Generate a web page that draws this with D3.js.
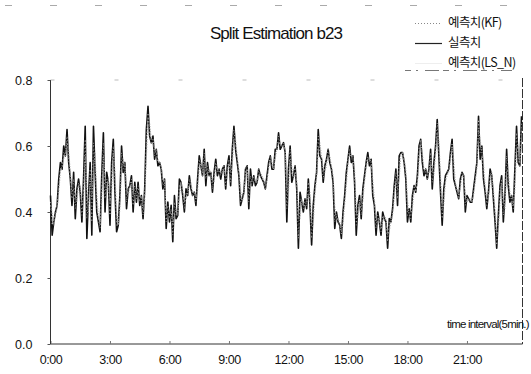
<!DOCTYPE html>
<html>
<head>
<meta charset="utf-8">
<script src="https://cdn.jsdelivr.net/npm/d3@7"></script>
<style>
  html, body { margin: 0; padding: 0; background: #fff; }
  svg { display: block; font-family: "Liberation Sans", Arial, "Noto Sans CJK KR", sans-serif; }
</style>
</head>
<body>
<svg id="chart" width="531" height="374"></svg>
<script>
// Split Estimation b23 - actual vs. two forecasts, 5 min intervals

const title = 'Split Estimation b23';
const xTickLabels = ['0:00', '3:00', '6:00', '9:00', '12:00', '15:00', '18:00', '21:00'];
const yTicks = [0, 0.2, 0.4, 0.6, 0.8];
const seriesNames = ['예측치(KF)', '실측치', '예측치(LS_N)'];

// 실측치 (actual)
const actual = [
  0.45,0.33,0.37,0.40,0.42,0.50,0.55,0.53,0.60,0.57,
  0.65,0.55,0.50,0.42,0.52,0.38,0.47,0.50,0.46,0.37,
  0.50,0.66,0.32,0.45,0.55,0.33,0.66,0.52,0.40,
  0.37,0.34,0.51,0.64,0.40,0.52,0.49,0.36,0.55,0.62,
  0.46,0.34,0.36,0.45,0.60,0.52,0.55,0.41,0.47,0.48,
  0.51,0.40,0.49,0.43,0.49,0.42,0.45,0.38,0.47,0.65,
  0.72,0.63,0.61,0.63,0.56,0.59,0.54,0.55,0.53,0.47,
  0.50,0.35,0.43,0.37,0.42,0.31,0.45,0.38,0.39,
  0.50,0.49,0.45,0.40,0.47,0.45,0.51,0.47,0.45,0.46,
  0.42,0.50,0.57,0.54,0.51,0.59,0.48,0.55,0.51,0.52,
  0.46,0.52,0.56,0.51,0.53,0.50,0.53,0.54,0.47,0.54,
  0.57,0.48,0.59,0.66,0.59,0.55,0.51,0.42,0.44,0.46,
  0.53,0.54,0.41,0.53,0.48,0.51,0.48,0.49,0.53,
  0.51,0.50,0.49,0.47,0.51,0.55,0.57,0.53,0.53,0.59,
  0.59,0.64,0.59,0.60,0.61,0.58,0.37,0.53,0.60,0.49,
  0.51,0.54,0.47,0.29,0.46,0.43,0.40,0.44,0.41,0.50,
  0.42,0.30,0.42,0.48,0.52,0.65,0.57,0.56,0.49,0.54,
  0.56,0.59,0.55,0.53,0.49,0.35,0.40,0.37,0.36,
  0.32,0.40,0.45,0.52,0.56,0.60,0.55,0.57,0.49,0.33,
  0.42,0.45,0.38,0.47,0.51,0.55,0.58,0.54,0.56,0.45,
  0.42,0.33,0.40,0.37,0.33,0.40,0.38,0.37,0.29,0.38,
  0.37,0.41,0.48,0.53,0.42,0.57,0.58,0.58,0.55,
  0.50,0.37,0.41,0.37,0.45,0.48,0.46,0.51,0.60,0.62,
  0.55,0.51,0.53,0.50,0.53,0.59,0.47,0.55,0.60,0.68,
  0.57,0.46,0.36,0.47,0.51,0.52,0.53,0.58,0.62,0.50,
  0.48,0.46,0.44,0.50,0.52,0.51,0.40,0.45,0.44,0.43,
  0.43,0.47,0.51,0.55,0.69,0.56,0.60,0.50,0.46,
  0.41,0.46,0.53,0.51,0.44,0.37,0.29,0.39,0.48,0.51,
  0.37,0.45,0.59,0.48,0.43,0.45,0.40,0.53,0.66,0.55,
  0.54,0.69
];

// 예측치(KF)
const kf = [
  0.42,0.40,0.36,0.39,0.41,0.46,0.52,0.54,0.56,0.58,
  0.61,0.59,0.52,0.46,0.47,0.45,0.43,0.48,0.48,0.42,
  0.44,0.57,0.48,0.40,0.50,0.44,0.52,0.58,0.46,
  0.39,0.36,0.43,0.57,0.51,0.46,0.50,0.43,0.46,0.58,
  0.53,0.40,0.36,0.41,0.53,0.56,0.54,0.48,0.45,0.47,
  0.49,0.45,0.45,0.46,0.46,0.45,0.44,0.41,0.43,0.56,
  0.68,0.67,0.62,0.62,0.59,0.58,0.56,0.55,0.54,0.50,
  0.49,0.40,0.39,0.40,0.40,0.36,0.39,0.41,0.39,
  0.45,0.49,0.47,0.43,0.44,0.46,0.48,0.49,0.46,0.46,
  0.44,0.46,0.53,0.55,0.52,0.55,0.53,0.52,0.53,0.52,
  0.49,0.49,0.54,0.53,0.52,0.52,0.52,0.53,0.51,0.51,
  0.55,0.52,0.54,0.62,0.62,0.57,0.53,0.47,0.43,0.45,
  0.52,0.53,0.47,0.47,0.50,0.50,0.50,0.49,0.51,
  0.52,0.51,0.50,0.48,0.49,0.53,0.56,0.55,0.53,0.56,
  0.59,0.61,0.61,0.60,0.60,0.59,0.48,0.45,0.56,0.54,
  0.50,0.52,0.50,0.38,0.38,0.44,0.42,0.42,0.43,0.45,
  0.46,0.36,0.36,0.45,0.50,0.58,0.61,0.57,0.53,0.52,
  0.54,0.57,0.57,0.54,0.51,0.42,0.38,0.38,0.37,
  0.34,0.36,0.42,0.48,0.54,0.58,0.57,0.56,0.53,0.41,
  0.38,0.43,0.41,0.43,0.49,0.53,0.56,0.56,0.55,0.50,
  0.44,0.38,0.37,0.38,0.35,0.37,0.39,0.38,0.33,0.34,
  0.37,0.39,0.44,0.50,0.47,0.50,0.57,0.58,0.56,
  0.53,0.44,0.39,0.39,0.41,0.46,0.47,0.48,0.55,0.61,
  0.58,0.53,0.52,0.51,0.52,0.56,0.53,0.51,0.57,0.64,
  0.62,0.51,0.41,0.42,0.49,0.51,0.52,0.55,0.60,0.56,
  0.49,0.47,0.45,0.47,0.51,0.51,0.46,0.43,0.44,0.44,
  0.43,0.45,0.49,0.53,0.65,0.62,0.58,0.55,0.48,
  0.44,0.44,0.49,0.52,0.47,0.41,0.33,0.34,0.43,0.49,
  0.44,0.41,0.52,0.53,0.46,0.44,0.42,0.46,0.59,0.60,
  0.55,0.61
];

// 예측치(LS_N)
const lsn = [
  0.43,0.36,0.38,0.40,0.42,0.48,0.53,0.53,0.58,0.57,
  0.63,0.56,0.50,0.44,0.50,0.41,0.46,0.49,0.47,0.39,
  0.47,0.62,0.38,0.43,0.53,0.37,0.61,0.54,0.42,
  0.38,0.35,0.48,0.61,0.44,0.50,0.49,0.39,0.52,0.60,
  0.48,0.36,0.36,0.44,0.58,0.53,0.55,0.43,0.47,0.48,
  0.50,0.42,0.48,0.44,0.48,0.43,0.45,0.39,0.46,0.62,
  0.70,0.64,0.61,0.62,0.57,0.59,0.55,0.55,0.53,0.48,
  0.50,0.37,0.42,0.38,0.41,0.33,0.43,0.39,0.39,
  0.48,0.49,0.46,0.41,0.46,0.45,0.50,0.48,0.45,0.46,
  0.43,0.49,0.56,0.54,0.51,0.58,0.50,0.54,0.51,0.52,
  0.47,0.51,0.55,0.52,0.53,0.51,0.53,0.54,0.48,0.53,
  0.56,0.49,0.58,0.65,0.60,0.56,0.51,0.43,0.44,0.46,
  0.53,0.54,0.43,0.51,0.49,0.51,0.49,0.49,0.53,
  0.51,0.50,0.49,0.47,0.50,0.54,0.57,0.54,0.53,0.58,
  0.59,0.63,0.60,0.60,0.61,0.58,0.41,0.51,0.59,0.51,
  0.51,0.54,0.48,0.32,0.44,0.43,0.41,0.44,0.42,0.49,
  0.43,0.32,0.40,0.47,0.52,0.63,0.58,0.56,0.50,0.54,
  0.56,0.59,0.56,0.53,0.50,0.37,0.39,0.37,0.36,
  0.33,0.39,0.44,0.51,0.56,0.59,0.56,0.57,0.50,0.36,
  0.41,0.44,0.39,0.46,0.50,0.55,0.57,0.55,0.56,0.46,
  0.43,0.35,0.39,0.37,0.34,0.39,0.38,0.37,0.31,0.37,
  0.37,0.40,0.47,0.52,0.44,0.55,0.58,0.58,0.55,
  0.51,0.39,0.40,0.38,0.44,0.48,0.46,0.50,0.59,0.62,
  0.56,0.52,0.53,0.50,0.53,0.58,0.49,0.54,0.59,0.67,
  0.58,0.48,0.38,0.45,0.50,0.52,0.53,0.57,0.61,0.52,
  0.48,0.46,0.44,0.49,0.52,0.51,0.42,0.44,0.44,0.43,
  0.43,0.46,0.50,0.54,0.68,0.58,0.59,0.51,0.47,
  0.42,0.45,0.52,0.51,0.45,0.38,0.30,0.37,0.47,0.50,
  0.39,0.44,0.57,0.49,0.44,0.45,0.41,0.51,0.64,0.56,
  0.54,0.67
];

(function(){
  const svg = d3.select('#chart');
  const left = 50.5, right = 521.5, plotTop = 80, plotBottom = 344;
  const perTick = 36; // 3 hours of 5-min intervals

  const x = d3.scaleLinear().domain([0, actual.length - 1]).range([left, right]);
  const y = d3.scaleLinear().domain([0, 0.8]).range([plotBottom, plotTop]);

  svg.append('rect').attr('width', 531).attr('height', 374).attr('fill', '#fff');

  // scan-like outer frame fragments
  svg.append('line').attr('x1', 5).attr('x2', 526).attr('y1', 5.5).attr('y2', 5.5)
    .attr('stroke', '#aaa').attr('stroke-width', 1).attr('stroke-dasharray', '7,38');

  // plot frame: faint top, dashed right
  svg.append('line').attr('x1', left).attr('x2', right + 1).attr('y1', plotTop).attr('y2', plotTop)
    .attr('stroke', '#bbb').attr('stroke-dasharray', '4,60');
  svg.append('line').attr('x1', right + 1).attr('x2', right + 1).attr('y1', plotTop - 2).attr('y2', plotBottom)
    .attr('stroke', '#333').attr('stroke-width', 1).attr('stroke-dasharray', '9,2');

  // axes
  const xAxis = d3.axisBottom(x)
    .tickValues(xTickLabels.map((d, i) => i * perTick))
    .tickFormat((d, i) => xTickLabels[i])
    .tickSize(-3).tickPadding(11);
  const gx = svg.append('g').attr('transform', `translate(0,${plotBottom})`).call(xAxis);
  gx.select('.domain').attr('d', `M${left},0H${right + 1}`).attr('stroke', '#333');
  gx.selectAll('.tick line').attr('stroke', '#777');
  gx.selectAll('.tick text').attr('font-size', 12.5).attr('fill', '#111')
    .attr('font-family', '"Liberation Sans", Arial, sans-serif').attr('letter-spacing', '-0.5');

  const yAxis = d3.axisLeft(y).tickValues(yTicks).tickFormat(d3.format('.1f')).tickSize(3).tickPadding(15);
  const gy = svg.append('g').attr('transform', `translate(${left},0)`).call(yAxis);
  gy.select('.domain').attr('d', `M0,${plotTop}V${plotBottom}`).attr('stroke', '#333');
  gy.selectAll('.tick line').attr('stroke', '#555');
  gy.selectAll('.tick text').attr('font-size', 12.5).attr('fill', '#111')
    .attr('font-family', '"Liberation Sans", Arial, sans-serif');

  // series
  const line = d3.line().x((d, i) => x(i)).y(d => y(d));

  svg.append('path').datum(actual).attr('d', line)
    .attr('fill', 'none').attr('stroke', '#111').attr('stroke-width', 1.6).attr('stroke-linejoin', 'round');
  svg.append('path').datum(lsn).attr('d', line)
    .attr('fill', 'none').attr('stroke', '#eaeaea').attr('stroke-width', 0.6).attr('stroke-dasharray', '1,2.5');
  svg.append('path').datum(kf).attr('d', line)
    .attr('fill', 'none').attr('stroke', '#a0a0a0').attr('stroke-width', 1).attr('stroke-dasharray', '1,1.5');

  // title
  svg.append('text').attr('x', 276).attr('y', 39).attr('text-anchor', 'middle')
    .attr('font-size', 17).attr('letter-spacing', '-0.9').attr('fill', '#111').text(title);

  // axis caption
  svg.append('text').attr('x', 447).attr('y', 328)
    .attr('font-size', 11.5).attr('letter-spacing', '-0.8')
    .attr('fill', '#111').text('time interval(5min.)');

  // legend
  const legend = svg.append('g');
  const legRows = [
    { name: seriesNames[0], y: 22, stroke: '#888', dash: '1,2', w: 1 },
    { name: seriesNames[1], y: 42, stroke: '#222', dash: null, w: 1.2 },
    { name: seriesNames[2], y: 62, stroke: '#eee', dash: null, w: 1 }
  ];
  legRows.forEach(r => {
    legend.append('line').attr('x1', 415).attr('x2', 442).attr('y1', r.y + 1.5).attr('y2', r.y + 1.5)
      .attr('stroke', r.stroke).attr('stroke-width', r.w).attr('stroke-dasharray', r.dash);
    legend.append('text').attr('x', 448).attr('y', r.y + 5).attr('font-size', 12.5)
      .attr('letter-spacing', '-0.6').attr('fill', '#111')
      .attr('font-family', '"Noto Sans CJK KR", "Liberation Sans", sans-serif').text(r.name);
  });
  legend.append('line').attr('x1', 405).attr('x2', 512).attr('y1', 70.5).attr('y2', 70.5)
    .attr('stroke', '#777').attr('stroke-dasharray', '6,5,2,7,14,4');
})();
</script>
</body>
</html>
